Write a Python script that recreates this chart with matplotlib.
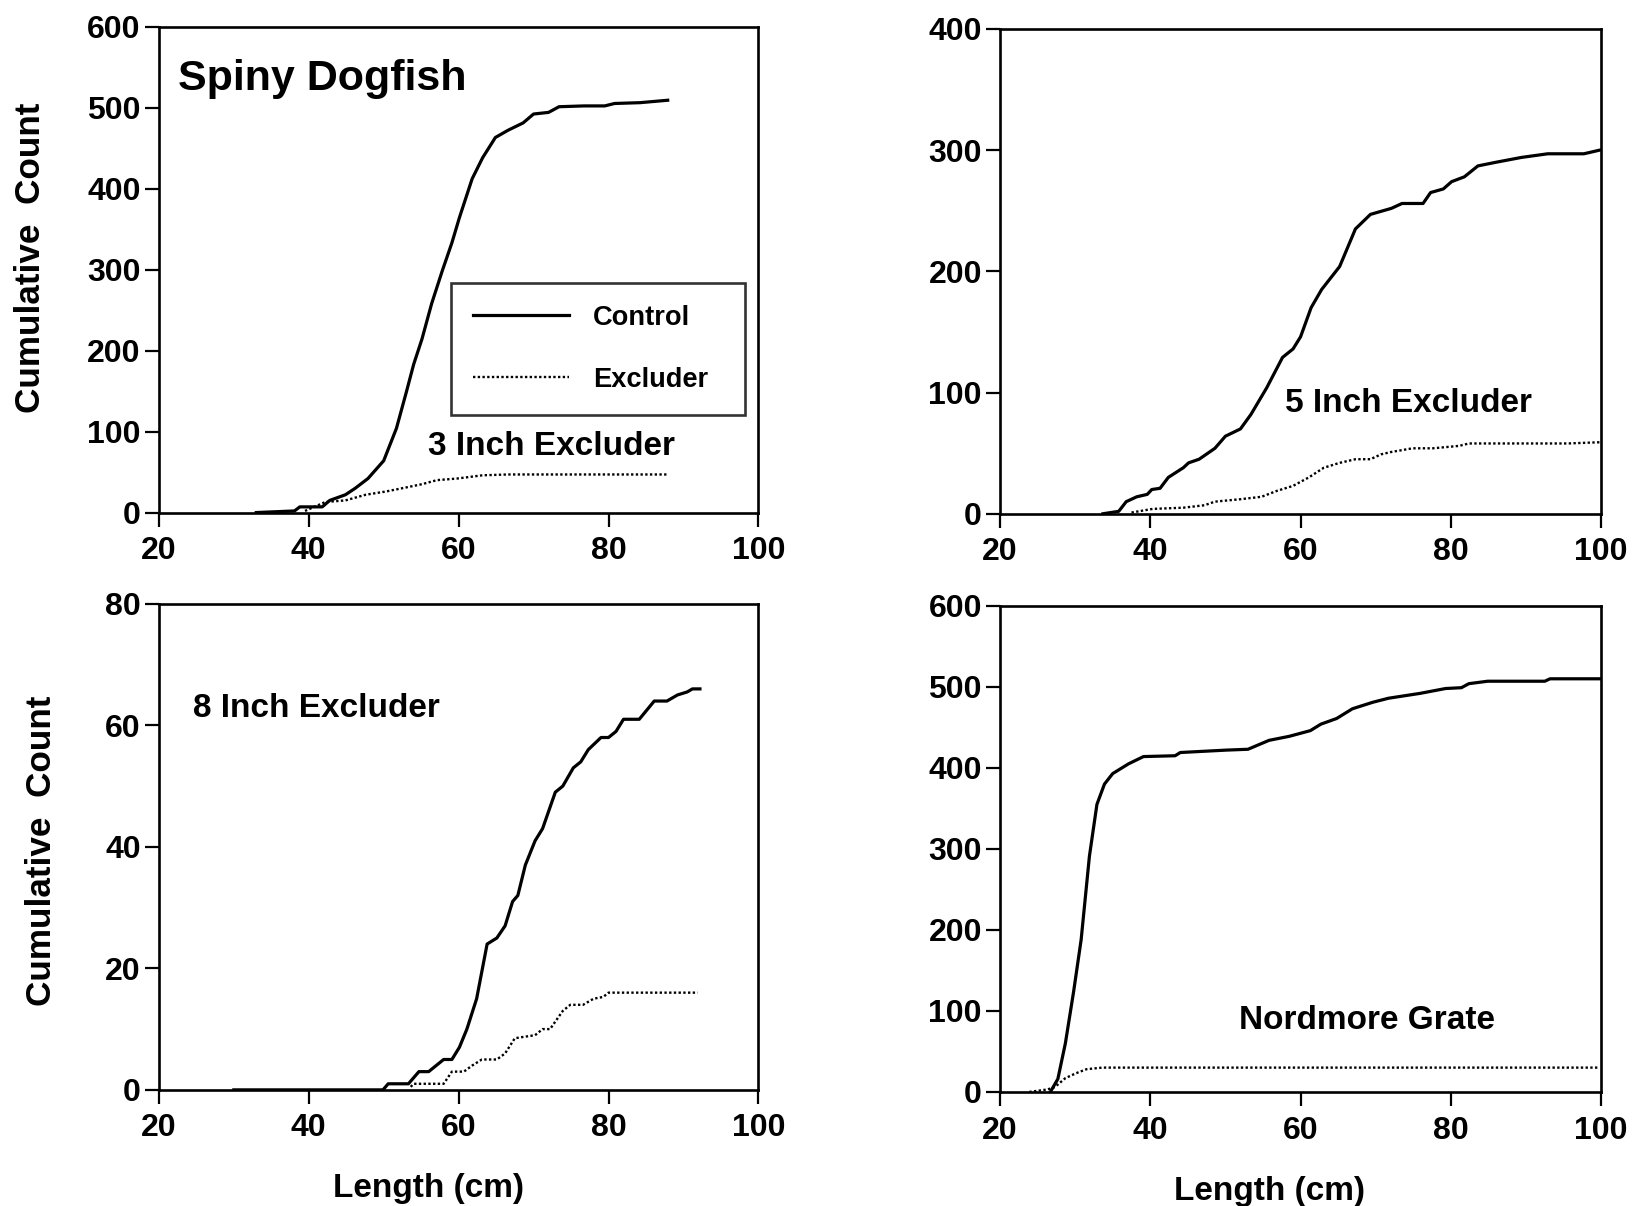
import numpy as np
import matplotlib
matplotlib.use("Agg")
import matplotlib.pyplot as plt

plt.rcParams['font.family'] = ['Liberation Sans', 'DejaVu Sans']
plt.rcParams['font.weight'] = 'bold'

# cumulative counts (length in cm)
len_3in_ctl = [33, 38.1, 38.8, 41.8, 42.8, 44.9, 46.2, 47.9, 50.0, 51.7, 53.0, 54.0, 55.1, 56.4,
               57.8, 59.1, 60.1, 61.8, 63.2, 64.9, 66.6, 68.6, 70.0, 72.0, 73.4, 76.7, 79.5,
               80.8, 84.2, 87.9]
cnt_3in_ctl = [0, 2, 7, 7, 15, 22, 30, 42, 64, 104, 148, 183, 214, 258,
               298, 333, 364, 412, 438, 463, 472, 481, 492, 494, 501, 502, 502,
               505, 506, 509]
len_3in_exc = [39.5, 42.2, 44.9, 47.6, 50.3, 53.0, 55.1, 57.1, 59.8, 63.2, 66.6, 87.9]
cnt_3in_exc = [2, 13, 15, 22, 26, 31, 35, 40, 42, 46, 47, 47]

len_5in_ctl = [33.7, 35.8, 36.8, 38.2, 39.6, 40.2, 41.3, 42.4, 44.4, 45.1, 46.5, 48.6, 50.0,
               52.0, 53.4, 55.5, 57.6, 59.0, 60.0, 61.4, 62.8, 65.2, 67.3, 69.3, 72.1, 73.5,
               76.3, 77.3, 79.0, 80.1, 81.8, 83.6, 86.0, 89.4, 92.9, 97.7, 99.8]
cnt_5in_ctl = [0, 2, 10, 14, 16, 20, 21, 30, 38, 42, 45, 54, 64,
               70, 82, 104, 129, 136, 146, 170, 185, 204, 235, 247, 252, 256,
               256, 265, 268, 274, 278, 287, 290, 294, 297, 297, 300]
len_5in_exc = [37.5, 40.3, 44.4, 47.2, 48.6, 52.0, 54.8, 56.9, 59.0, 61.1, 63.1, 65.2, 67.3,
               69.3, 70.7, 72.1, 74.9, 77.6, 81.1, 82.4, 89.4, 95.6, 99.8]
cnt_5in_exc = [1, 4, 5, 7, 10, 12, 14, 19, 23, 30, 38, 42, 45,
               45, 49, 51, 54, 54, 56, 58, 58, 58, 59]

len_8in_ctl = [30, 49.9, 50.6, 53.3, 54.7, 56.0, 58.0, 59.1, 60.1, 61.1, 62.4, 63.8, 65.1, 66.2,
               67.2, 67.9, 68.9, 70.2, 71.2, 72.9, 73.9, 75.3, 76.3, 77.3, 79.0, 80.0, 81.0,
               82.0, 84.1, 86.1, 87.8, 89.2, 90.5, 91.2, 92.2]
cnt_8in_ctl = [0, 0, 1, 1, 3, 3, 5, 5, 7, 10, 15, 24, 25, 27,
               31, 32, 37, 41, 43, 49, 50, 53, 54, 56, 58, 58, 59,
               61, 61, 64, 64, 65, 65.5, 66, 66]
len_8in_exc = [53.6, 54.0, 58.0, 59.1, 60.7, 61.8, 63.1, 65.1, 66.2, 67.5, 70.2, 71.2, 72.2,
               73.9, 74.9, 76.6, 78.0, 79.3, 80.0, 87.1, 91.9]
cnt_8in_exc = [0.5, 1, 1, 3, 3, 4, 5, 5, 6, 8.5, 9, 10, 10,
               13, 14, 14, 15, 15.3, 16, 16, 16]

len_grate_ctl = [26.7, 27.7, 28.7, 29.8, 30.8, 31.9, 32.9, 33.9, 35.0, 37.1, 39.1, 43.3, 44.0,
                 50.2, 53.0, 55.8, 58.5, 61.3, 62.7, 64.8, 66.9, 69.6, 71.7, 75.9, 79.3, 81.4,
                 82.4, 84.9, 92.5, 93.2, 99.8]
cnt_grate_ctl = [0, 16, 60, 124, 188, 291, 355, 380, 393, 405, 414, 415, 419,
                 422, 423, 434, 439, 446, 454, 461, 473, 481, 486, 492, 498, 499,
                 504, 507, 507, 510, 510]
len_grate_exc = [23.9, 26.3, 27.3, 28.7, 30.1, 31.5, 33.6, 40.5, 99.8]
cnt_grate_exc = [0, 3, 6, 17, 23, 28, 30, 30, 30]

fig = plt.figure(figsize=(16.38, 12.06), dpi=100)
axes = [
    fig.add_axes([0.097, 0.575, 0.366, 0.403]),
    fig.add_axes([0.6105, 0.574, 0.367, 0.402]),
    fig.add_axes([0.097, 0.0963, 0.366, 0.403]),
    fig.add_axes([0.6105, 0.0946, 0.367, 0.403]),
]

panels = [
    (len_3in_ctl, cnt_3in_ctl, len_3in_exc, cnt_3in_exc, 600, 100, "3 Inch Excluder", (55.9, 81)),
    (len_5in_ctl, cnt_5in_ctl, len_5in_exc, cnt_5in_exc, 400, 100, "5 Inch Excluder", (57.9, 91)),
    (len_8in_ctl, cnt_8in_ctl, len_8in_exc, cnt_8in_exc, 80, 20, "8 Inch Excluder", (24.6, 62.8)),
    (len_grate_ctl, cnt_grate_ctl, len_grate_exc, cnt_grate_exc, 600, 100, "Nordmore Grate", (51.8, 87.7)),
]

for ax, (xc, yc, xe, ye, ymax, ystep, name, pos) in zip(axes, panels):
    ax.plot(xc, yc, color="black", lw=2.3, label="Control")
    ax.plot(xe, ye, color="black", lw=1.7, linestyle=(0, (1, 1)), label="Excluder")
    ax.set_xlim(20, 100)
    ax.set_ylim(0, ymax)
    ax.set_xticks([20, 40, 60, 80, 100])
    ax.set_yticks(np.arange(0, ymax + 1, ystep))
    ax.tick_params(direction="out", length=10, width=1.6, labelsize=23)
    ax.tick_params(axis="x", pad=7)
    ax.tick_params(axis="y", pad=3)
    for lab in ax.get_xticklabels() + ax.get_yticklabels():
        lab.set_fontweight("bold")
    for sp in ax.spines.values():
        sp.set_linewidth(1.9)
    ax.text(pos[0], pos[1], name, fontsize=24, fontweight="bold", va="center", ha="left")

axes[0].text(22.5, 535, "Spiny Dogfish", fontsize=31, fontweight="bold", va="center", ha="left")

leg = axes[0].legend(loc="lower left", bbox_to_anchor=(0.488, 0.2016, 0.489, 0.272), mode="expand",
                     borderaxespad=0, fontsize=19.6, frameon=True, fancybox=False,
                     handlelength=3.5, labelspacing=1.32, borderpad=0.8, handletextpad=0.9)
leg.get_frame().set_edgecolor("black")
leg.get_frame().set_linewidth(1.9)
for t in leg.get_texts():
    t.set_fontweight("bold")

axes[0].set_ylabel("Cumulative  Count", fontsize=25.3, fontweight="bold")
axes[0].yaxis.set_label_coords(-0.186, 0.524)
axes[2].set_ylabel("Cumulative  Count", fontsize=25.3, fontweight="bold")
axes[2].yaxis.set_label_coords(-0.169, 0.492)
for ax in (axes[2], axes[3]):
    ax.set_xlabel("Length (cm)", fontsize=24, fontweight="bold")
    ax.xaxis.set_label_coords(0.449, -0.172)

fig.savefig("out.png", dpi=100)
